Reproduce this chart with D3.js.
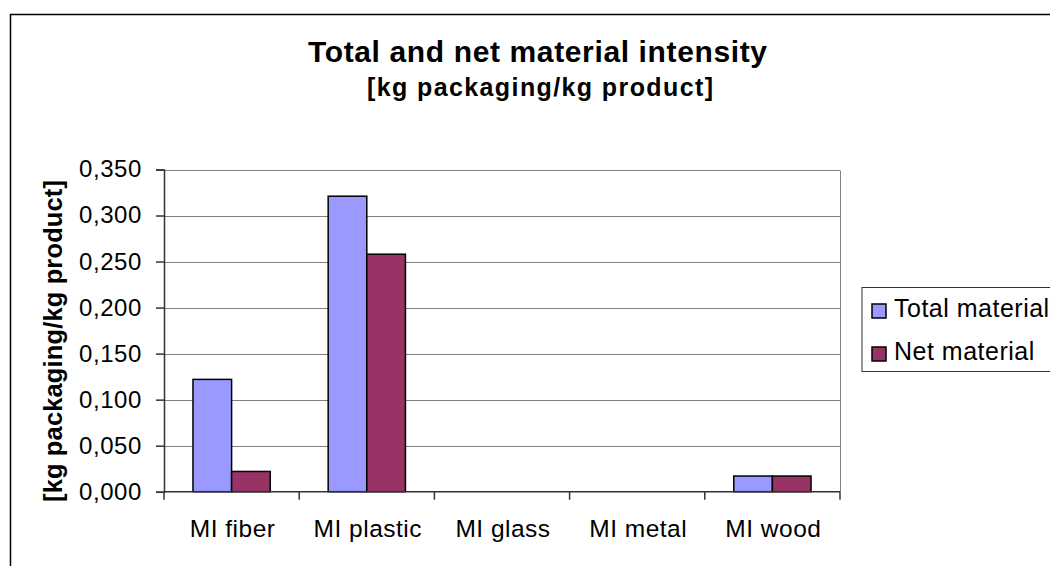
<!DOCTYPE html>
<html>
<head>
<meta charset="utf-8">
<script src="https://cdn.jsdelivr.net/npm/d3@7"></script>
<style>
  html, body { margin: 0; padding: 0; background: #fff; }
  svg { display: block; font-family: "Liberation Sans", Arial, sans-serif; }
</style>
</head>
<body>
<svg id="chart" width="1050" height="566"></svg>
<script>
const categories = ["MI fiber", "MI plastic", "MI glass", "MI metal", "MI wood"];
const seriesNames = ["Total material", "Net material"];
const totalMaterial = [0.122, 0.321, 0, 0, 0.017];
const netMaterial = [0.022, 0.258, 0, 0, 0.017];
const yTicks = [0, 0.05, 0.1, 0.15, 0.2, 0.25, 0.3, 0.35];
const colors = ["#9999FF", "#993366"];
const titleText = "Total and net material intensity";
const subtitleText = "[kg packaging/kg product]";
const yAxisTitle = "[kg packaging/kg product]";

const svg = d3.select("#chart");
const plot = { left: 164, right: 840, top: 169.5, bottom: 491.7 };

// outer chart border
svg.append("path")
  .attr("d", `M10.5,570 V14.5 H1060`)
  .attr("fill", "none").attr("stroke", "#000").attr("stroke-width", 1.5);

const x0 = d3.scaleBand().domain(categories).range([plot.left, plot.right]).paddingInner(0).paddingOuter(0);
const x1 = d3.scaleBand().domain(seriesNames).range([0, x0.bandwidth()]).paddingInner(0).paddingOuter(0.75);
const y = d3.scaleLinear().domain([0, 0.35]).range([plot.bottom, plot.top]);

// gridlines
svg.append("g").selectAll("line").data(yTicks.slice(1)).join("line")
  .attr("x1", plot.left).attr("x2", plot.right)
  .attr("y1", d => Math.round(y(d)) + 0.5).attr("y2", d => Math.round(y(d)) + 0.5)
  .attr("stroke", "#808080").attr("stroke-width", 1);
// plot right border
svg.append("line").attr("x1", plot.right + 0.5).attr("x2", plot.right + 0.5)
  .attr("y1", Math.round(plot.top) + 0.5).attr("y2", plot.bottom)
  .attr("stroke", "#808080").attr("stroke-width", 1);

// bars
const groups = svg.append("g").selectAll("g").data(categories).join("g")
  .attr("transform", d => `translate(${x0(d)},0)`);
groups.selectAll("rect").data((d, i) => [
    { s: seriesNames[0], v: totalMaterial[i] },
    { s: seriesNames[1], v: netMaterial[i] }
  ].filter(e => e.v > 0)).join("rect")
  .attr("x", d => x1(d.s))
  .attr("width", x1.bandwidth())
  .attr("y", d => y(d.v))
  .attr("height", d => y(0) - y(d.v))
  .attr("fill", (d) => colors[seriesNames.indexOf(d.s)])
  .attr("stroke", "#000").attr("stroke-width", 1.5);

// y axis
const yAxis = d3.axisLeft(y).tickValues(yTicks).tickSize(8).tickPadding(14)
  .tickFormat(d => d3.format(".3f")(d).replace(".", ","));
const gy = svg.append("g").attr("transform", `translate(${plot.left},0)`).call(yAxis);
gy.select(".domain").attr("stroke", "#333").attr("stroke-width", 1.5);
gy.selectAll(".tick line").attr("stroke", "#333").attr("stroke-width", 1.5);
gy.selectAll(".tick text").attr("font-size", 24).attr("fill", "#000")
  .attr("font-family", "'Liberation Sans', Arial, sans-serif").attr("dy", "0.31em")
  .attr("letter-spacing", 0.6);

// x axis
const tickPos = categories.map(c => x0(c)).concat([plot.right]);
const gx = svg.append("g");
gx.append("line").attr("x1", plot.left).attr("x2", plot.right)
  .attr("y1", plot.bottom).attr("y2", plot.bottom)
  .attr("stroke", "#333").attr("stroke-width", 1.5);
gx.selectAll("line.t").data(tickPos).join("line").attr("class", "t")
  .attr("x1", d => d).attr("x2", d => d)
  .attr("y1", plot.bottom).attr("y2", plot.bottom + 8)
  .attr("stroke", "#333").attr("stroke-width", 1.5);
gx.selectAll("text").data(categories).join("text")
  .attr("x", d => x0(d) + x0.bandwidth() / 2 + 1)
  .attr("y", 537)
  .attr("text-anchor", "middle")
  .attr("font-size", 24.5).attr("letter-spacing", 0.5)
  .text(d => d);

// titles
svg.append("text").attr("x", 537.5).attr("y", 62).attr("text-anchor", "middle")
  .attr("font-size", 30).attr("font-weight", "bold")
  .attr("textLength", 459).attr("lengthAdjust", "spacing")
  .text(titleText);
svg.append("text").attr("x", 540).attr("y", 96).attr("text-anchor", "middle")
  .attr("font-size", 25).attr("font-weight", "bold")
  .attr("textLength", 346).attr("lengthAdjust", "spacing")
  .text(subtitleText);
svg.append("text")
  .attr("transform", `translate(62,341) rotate(-90)`)
  .attr("text-anchor", "middle")
  .attr("font-size", 25.5).attr("font-weight", "bold")
  .attr("textLength", 322).attr("lengthAdjust", "spacing")
  .text(yAxisTitle);

// legend
const lg = svg.append("g");
lg.append("rect").attr("x", 862).attr("y", 287.5).attr("width", 200).attr("height", 84)
  .attr("fill", "#fff").attr("stroke", "#333").attr("stroke-width", 1);
const items = lg.selectAll("g").data(seriesNames).join("g")
  .attr("transform", (d, i) => `translate(0,${i * 43})`);
items.append("rect").attr("x", 872).attr("y", 304).attr("width", 14).attr("height", 14)
  .attr("fill", (d, i) => colors[i]).attr("stroke", "#000").attr("stroke-width", 1.5);
items.append("text").attr("x", 894).attr("y", 317)
  .attr("font-size", 25).attr("letter-spacing", 0.5)
  .text(d => d);
</script>
</body>
</html>
